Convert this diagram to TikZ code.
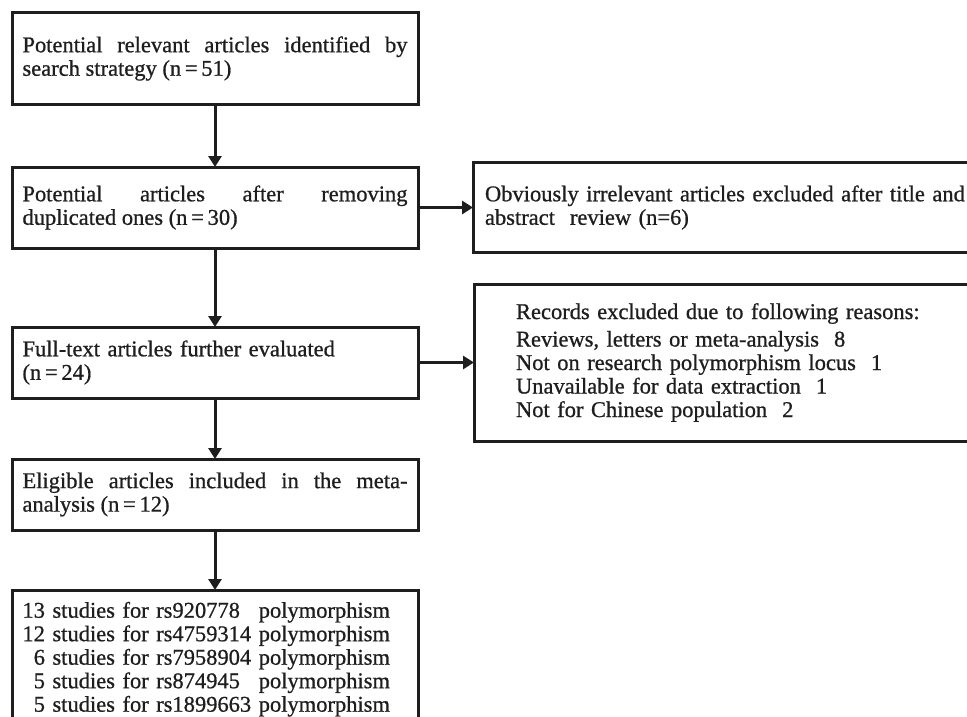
\documentclass[tikz,border=0pt]{standalone}
\usepackage{fontspec}
\setmainfont{Liberation Serif}
\newfontfamily\flowfamily{Liberation Serif}[FakeBold=0.8]
\usetikzlibrary{arrows.meta, positioning}
\definecolor{boxline}{HTML}{1E1E1E}
\newcommand{\flowfont}{\flowfamily\fontsize{22.5}{23.5}\selectfont}
\tikzset{
  % scatola del diagramma
  box/.style={draw=boxline, line width=3pt, text width=385pt, inner xsep=10.5pt,
    outer sep=0pt, align=justify, font=\flowfont, text=boxline},
  % scatola delle esclusioni (a destra)
  sidebox/.style={box, align=left},
  % freccia tra le scatole
  flow/.style={-{Triangle[length=11pt, width=13pt]}, line width=3pt, boxline},
}

\begin{document}
\begin{tikzpicture}[x=1pt, y=1pt]
  \useasboundingbox (0,0) rectangle (967,-717);
  \clip (0,0) rectangle (967,-717);
  % colonna principale
  \node[box, minimum height=91pt] (search) at (215,-58.5)
    {Potential relevant articles identified by\linebreak search strategy (n\,=\,51)};
  \node[box, minimum height=81pt, below=63pt of search] (dupl)
    {Potential articles after removing\linebreak duplicated ones (n\,=\,30)};
  \node[box, align=left, minimum height=71pt, below=79pt of dupl] (fulltext)
    {Full-text articles further evaluated\\(n\,=\,24)};
  \node[box, minimum height=71pt, below=61pt of fulltext] (eligible)
    {Eligible articles included in the meta-\linebreak analysis (n\,=\,12)};
  \node[box, align=left, inner ysep=6pt, minimum height=140pt, anchor=north,
    below=60pt of eligible] (studies)
    {\begin{tabular}{@{}r@{ }l@{ }l@{}}
      13 & studies for rs920778 & polymorphism\\
      12 & studies for rs4759314 & polymorphism\\
      6 & studies for rs7958904 & polymorphism\\
      5 & studies for rs874945 & polymorphism\\
      5 & studies for rs1899663 & polymorphism
    \end{tabular}};
  % esclusioni
  \node[sidebox, text width=490pt, inner xsep=12pt, minimum height=90pt,
    right=55pt of dupl] (irrel)
    {Obviously irrelevant articles excluded after title and\\abstract\ \ review (n=6)};
  \node[sidebox, text width=460pt, inner xsep=42pt, minimum height=157pt,
    right=56pt of fulltext] (records)
    {Records excluded due to following reasons:\\[4pt]
     Reviews, letters or meta-analysis\ \ 8\\
     Not on research polymorphism locus\ \ 1\\
     Unavailable for data extraction\ \ 1\\
     Not for Chinese population\ \ 2};
  % frecce
  \draw[flow] (search) -- (dupl);
  \draw[flow] (dupl) -- (fulltext);
  \draw[flow] (fulltext) -- (eligible);
  \draw[flow] (eligible) -- (studies);
  \draw[flow] (dupl.east) -- (irrel.west);
  \draw[flow] (fulltext.east) -- (records.west);
\end{tikzpicture}
\end{document}
